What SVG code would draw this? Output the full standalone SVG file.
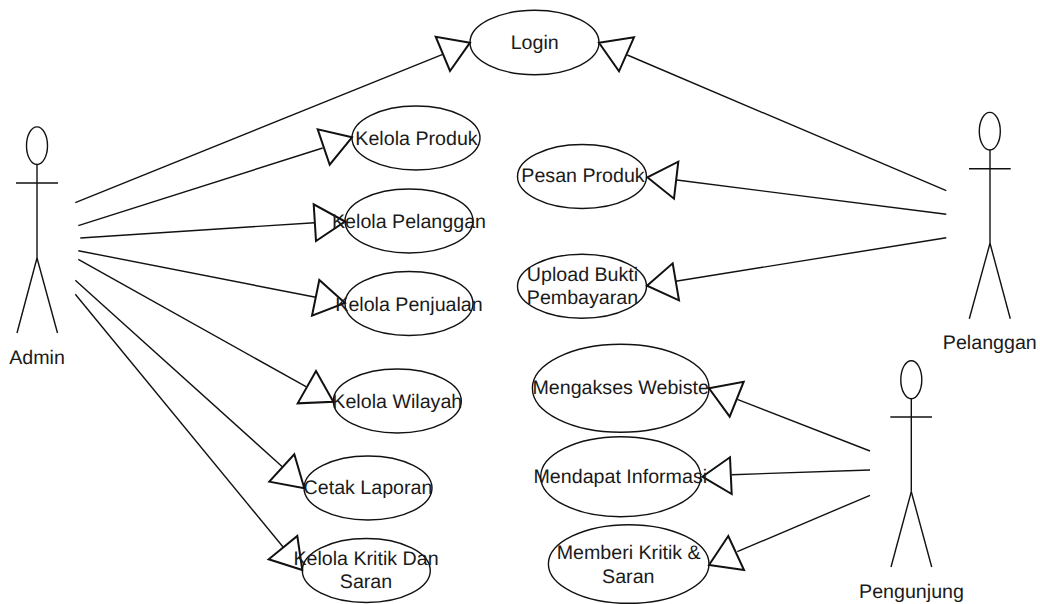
<svg xmlns="http://www.w3.org/2000/svg" width="1040" height="604" viewBox="0 0 1040 604">
<style>
.bg{fill:#fff}
ellipse{fill:none;stroke:#111;stroke-width:1.4}
line{stroke:#111;stroke-width:1.4;fill:none}
polygon{fill:none;stroke:#111;stroke-width:2;stroke-linejoin:miter}
text{font-family:"Liberation Sans",Arial,sans-serif;font-size:19.65px;fill:#1a1a1a;text-anchor:middle;text-rendering:geometricPrecision}
</style>
<rect class="bg" width="1040" height="604"/>
<g id="connectors">
<line x1="75.3" y1="202.7" x2="442.7" y2="54.3"/><polygon points="470,42.7 435.7,36.7 450,71"/>
<line x1="78.3" y1="225.7" x2="322.7" y2="148"/><polygon points="352,137.3 317.7,129.3 329.7,164.7"/>
<line x1="80.3" y1="238" x2="314.7" y2="222.7"/><polygon points="345,221.5 313.7,204.3 316,241"/>
<line x1="78.3" y1="250.7" x2="315.7" y2="297.3"/><polygon points="345,303 319.3,280 312,315.7"/>
<line x1="78.3" y1="259.3" x2="306" y2="386.7"/><polygon points="333.3,401.7 316,371 297.7,403.3"/>
<line x1="75.3" y1="280.3" x2="282.3" y2="466.7"/><polygon points="304.3,488.3 294.3,454.3 269.3,481.7"/>
<line x1="75.3" y1="294.3" x2="283.3" y2="547.3"/><polygon points="302.3,570 297.3,536 268.7,559.3"/>
<line x1="946.3" y1="190.7" x2="627.3" y2="55"/><polygon points="599,42.7 634,37.3 619,71.3"/>
<line x1="946.3" y1="214.3" x2="676.7" y2="180"/><polygon points="647.3,177.3 678.3,161.7 674,198.7"/>
<line x1="946.3" y1="237.7" x2="675.7" y2="281.3"/><polygon points="647,285.7 672.7,263.3 679,300.3"/>
<line x1="870" y1="451" x2="737.3" y2="399.3"/><polygon points="709,388.3 743.7,381.7 729.7,416.7"/>
<line x1="870" y1="470" x2="731.7" y2="474.7"/><polygon points="702.3,476.7 730,457.3 731.7,494"/>
<line x1="870" y1="495.3" x2="737.3" y2="551.7"/><polygon points="709,565 728.3,536 744,570"/>
</g>
<g id="actor-admin">
<ellipse cx="37" cy="145.7" rx="10.5" ry="18.8"/>
<line x1="37" y1="164.5" x2="37" y2="258"/><line x1="16" y1="183" x2="58" y2="183"/>
<line x1="37" y1="258" x2="17" y2="333"/><line x1="37" y1="258" x2="57.5" y2="333"/>
<text x="37" y="363.5">Admin</text>
</g>
<g id="actor-pelanggan">
<ellipse cx="989.8" cy="131.2" rx="10.5" ry="18.8"/>
<line x1="990" y1="150" x2="990" y2="243.3"/><line x1="969" y1="168.7" x2="1010.7" y2="168.7"/>
<line x1="990" y1="243.3" x2="969.3" y2="318.7"/><line x1="990" y1="243.3" x2="1010.3" y2="318.7"/>
<text x="989.8" y="348.5">Pelanggan</text>
</g>
<g id="actor-pengunjung">
<ellipse cx="911.3" cy="379.7" rx="10.5" ry="19"/>
<line x1="911.3" y1="398.7" x2="911.3" y2="491.7"/><line x1="890.3" y1="417" x2="932" y2="417"/>
<line x1="911.3" y1="491.7" x2="891" y2="567"/><line x1="911.3" y1="491.7" x2="931.7" y2="567"/>
<text x="911.5" y="598">Pengunjung</text>
</g>
<g id="uc-login"><ellipse cx="534.5" cy="42.5" rx="64.5" ry="32.2"/><text x="534.7" y="49.3">Login</text></g>
<g id="uc-kelola-produk"><ellipse cx="416" cy="138" rx="64" ry="32"/><text x="416.5" y="144.5">Kelola Produk</text></g>
<g id="uc-kelola-pelanggan"><ellipse cx="409" cy="221" rx="64" ry="32"/><text x="409" y="227.5">Kelola Pelanggan</text></g>
<g id="uc-kelola-penjualan"><ellipse cx="409" cy="303.5" rx="64" ry="32"/><text x="409" y="310.5">Kelola Penjualan</text></g>
<g id="uc-kelola-wilayah"><ellipse cx="397.3" cy="401" rx="64" ry="32"/><text x="397.3" y="408">Kelola Wilayah</text></g>
<g id="uc-cetak-laporan"><ellipse cx="368" cy="488" rx="64" ry="32"/><text x="368" y="494">Cetak Laporan</text></g>
<g id="uc-kelola-kritik"><ellipse cx="366.3" cy="570.5" rx="64" ry="32"/><text x="366" y="565">Kelola Kritik Dan</text><text x="366" y="588">Saran</text></g>
<g id="uc-pesan-produk"><ellipse cx="582" cy="176.5" rx="64.5" ry="32"/><text x="583" y="181.7">Pesan Produk</text></g>
<g id="uc-upload"><ellipse cx="582" cy="286.2" rx="64.5" ry="32"/><text x="582.5" y="281">Upload Bukti</text><text x="582.5" y="303.5">Pembayaran</text></g>
<g id="uc-mengakses"><ellipse cx="620.7" cy="388.3" rx="88.3" ry="44"/><text x="620.7" y="394.2">Mengakses Webiste</text></g>
<g id="uc-mendapat"><ellipse cx="620.7" cy="476.7" rx="80" ry="40"/><text x="620.3" y="483.3">Mendapat Informasi</text></g>
<g id="uc-memberi"><ellipse cx="628.7" cy="564" rx="80.3" ry="39.3"/><text x="628.7" y="559">Memberi Kritik &amp;</text><text x="628.3" y="583.3">Saran</text></g>
</svg>
